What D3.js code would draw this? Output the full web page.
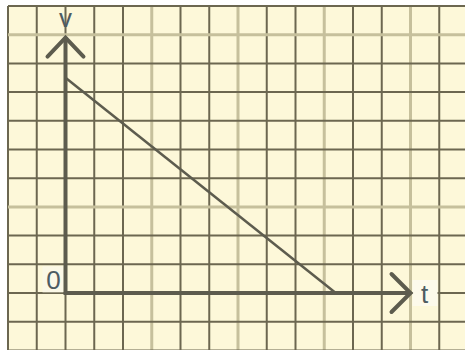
<!DOCTYPE html>
<html>
<head>
<meta charset="utf-8">
<script src="https://cdn.jsdelivr.net/npm/d3@7"></script>
<style>
  body { margin: 0; background: #fff; }
  svg { display: block; }
</style>
</head>
<body>
<div id="chart"></div>
<script>
// v-t graph on grid paper
var width = 465;
var height = 350;

// grid lines, in grid cells from the origin
var gridCols = [-2, -1, 0, 1, 2, 3, 4, 5, 6, 7, 8, 9, 10, 11, 12, 13];
var gridRows = [-2, -1, 0, 1, 2, 3, 4, 5, 6, 7, 8, 9, 10];
var lightCols = [3, 6, 9, 12];
var lightRows = [3, 9];

// the plotted line: velocity falls to zero
var tValues = [0, 9.4];
var vValues = [7.5, 0];

// axis ends and labels
var tAxisEnd = 12;
var vAxisEnd = 8.9;
var axisLabels = ["v", "t", "0"];

var x = d3.scaleLinear().domain([-2, 13]).range([8, 439.25]);
var y = d3.scaleLinear().domain([0, 10]).range([293, 6]);

var svg = d3.select("#chart").append("svg")
  .attr("width", width)
  .attr("height", height);

// paper
svg.append("rect")
  .attr("x", x(-2))
  .attr("y", y(10))
  .attr("width", width - x(-2))
  .attr("height", height - y(10))
  .attr("fill", "#fdf8d9");

var grid = svg.append("g");

grid.selectAll("line.col").data(gridCols).enter().append("line")
  .attr("class", "col")
  .attr("x1", function(d) { return x(d); })
  .attr("x2", function(d) { return x(d); })
  .attr("y1", y(10))
  .attr("y2", height)
  .attr("stroke", function(d) { return lightCols.indexOf(d) >= 0 ? "#c6c09c" : "#6c6750"; })
  .attr("stroke-width", function(d) { return lightCols.indexOf(d) >= 0 ? 3 : 2; });

grid.selectAll("line.row").data(gridRows).enter().append("line")
  .attr("class", "row")
  .attr("x1", x(-2))
  .attr("x2", width)
  .attr("y1", function(d) { return y(d); })
  .attr("y2", function(d) { return y(d); })
  .attr("stroke", function(d) { return lightRows.indexOf(d) >= 0 ? "#c6c09c" : "#6c6750"; })
  .attr("stroke-width", function(d) { return lightRows.indexOf(d) >= 0 ? 3 : 2; });

// label backgrounds
svg.append("rect")
  .attr("x", x(12) + 2).attr("y", y(0) - 13)
  .attr("width", 25).attr("height", 26)
  .attr("fill", "#fdfaeb");
svg.append("rect")
  .attr("x", x(-0.8)).attr("y", y(1) + 2)
  .attr("width", 21).attr("height", 26)
  .attr("fill", "#fbf8e6");

var ink = "#5d5c4e";

// data line
var line = d3.line()
  .x(function(d) { return x(d[0]); })
  .y(function(d) { return y(d[1]); });

svg.append("path")
  .datum(d3.zip(tValues, vValues))
  .attr("d", line)
  .attr("fill", "none")
  .attr("stroke", ink)
  .attr("stroke-width", 2.5);

// axes
svg.append("path")
  .attr("d", "M" + x(0) + "," + y(vAxisEnd) + "V" + y(0) + "H" + x(tAxisEnd))
  .attr("fill", "none")
  .attr("stroke", ink)
  .attr("stroke-width", 4);

// arrowheads
var vx = x(0), vy = y(vAxisEnd);
svg.append("path")
  .attr("d", "M" + (vx - 18) + "," + (vy + 19) + "L" + vx + "," + vy + "L" + (vx + 18) + "," + (vy + 19))
  .attr("fill", "none")
  .attr("stroke", ink)
  .attr("stroke-width", 4)
  .attr("stroke-linecap", "round");

var tx = x(tAxisEnd), ty = y(0);
svg.append("path")
  .attr("d", "M" + (tx - 19) + "," + (ty - 19) + "L" + tx + "," + ty + "L" + (tx - 19) + "," + (ty + 19))
  .attr("fill", "none")
  .attr("stroke", ink)
  .attr("stroke-width", 4)
  .attr("stroke-linecap", "round");

// labels
var labelFont = "Liberation Sans, Arial, sans-serif";

svg.append("text")
  .attr("x", x(0)).attr("y", 27)
  .attr("text-anchor", "middle")
  .attr("font-family", labelFont)
  .attr("font-size", 26)
  .attr("fill", "#4e5c62")
  .text(axisLabels[0]);

svg.append("text")
  .attr("x", x(tAxisEnd) + 14).attr("y", y(0) + 10)
  .attr("text-anchor", "middle")
  .attr("font-family", labelFont)
  .attr("font-size", 26)
  .attr("fill", "#4e5c62")
  .text(axisLabels[1]);

svg.append("text")
  .attr("x", x(0) - 12).attr("y", y(0) - 4)
  .attr("text-anchor", "middle")
  .attr("font-family", labelFont)
  .attr("font-size", 26)
  .attr("fill", "#4e5c62")
  .text(axisLabels[2]);
</script>
</body>
</html>
